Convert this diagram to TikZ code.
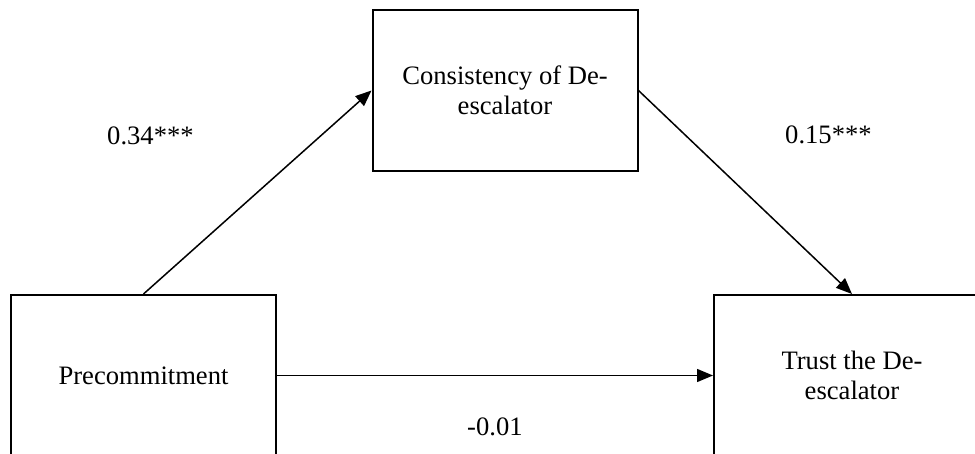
\documentclass[tikz,border=0pt]{standalone}
\usepackage{fontspec}
\setmainfont{Liberation Serif}
\usetikzlibrary{arrows.meta}
\tikzset{
  box/.style={draw=black, line width=2pt, minimum width=265pt, minimum height=161pt, inner sep=0pt, align=center, font=\fontsize{26.6}{30.4}\selectfont},
  conn/.style={draw=black, line width=1.5pt, -{Triangle[length=16pt,width=13pt]}},
  lbl/.style={inner sep=0pt, anchor=base west, font=\fontsize{26.6}{30.4}\selectfont}
}
\begin{document}
\begin{tikzpicture}[x=1pt,y=-1pt]
\clip (0,0) rectangle (975,454);
\fill[white] (0,0) rectangle (975,454);
\node[box] (tb) at (505,90.5) {Consistency of De-\\escalator};
\node[box] (lb) at (143.5,375.5) {Precommitment};
\node[box, minimum width=276pt] (rb) at (852,375.5) {Trust the De-\\escalator};
\draw[conn] (lb.north) -- (tb.west);
\draw[conn] (tb.east) -- (rb.north);
\draw[conn] (lb.east) -- (rb.west);
\node[lbl] (l1) at (107,145) {0.34***};
\node[lbl] (l2) at (785,144) {0.15***};
\node[lbl] (l3) at (467,435) {-0.01};
\end{tikzpicture}
\end{document}
